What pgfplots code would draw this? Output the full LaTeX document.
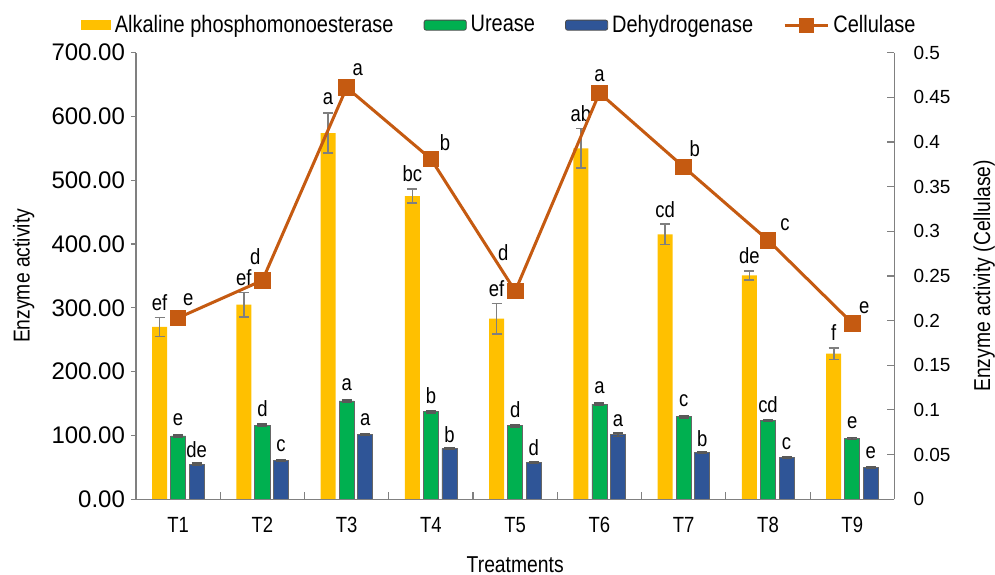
\documentclass[border=0pt]{standalone}
\usepackage{fontspec}
\setmainfont{Liberation Sans}[FakeStretch=0.84]
\newfontfamily\numfont{Liberation Sans}
\usepackage{pgfplots}
\usepackage{pgfplotstable}
\pgfplotsset{compat=1.18}

\definecolor{alpcol}{HTML}{FFC000}
\definecolor{urecol}{HTML}{00B050}
\definecolor{dehcol}{HTML}{2F5597}
\definecolor{celcol}{HTML}{C55A11}
\definecolor{axcol}{HTML}{808080}
\definecolor{errcol}{HTML}{7F7F7F}

% treatment, value, error, letter
\pgfplotstableread{
x alp alperr alpl ure ureerr urel deh deherr dehl
1 270 15 ef  99 1.5 e  55 1.2 de
2 305 19 ef 116 1.5 d  61 1.2 c
3 574 31 a  154 1.5 a 102 1.2 a
4 475 11 bc 137 1.5 b  79 1.2 b
5 283 24 ef 115 1.5 d  58 1.2 d
6 550 31 ab 149 1.5 a 101 3.0 a
7 415 16 cd 129 1.5 c  73 1.2 b
8 351  7 de 123 1.5 cd 65 1.2 c
9 228  9 f   95 1.5 e  50 1.2 e
}\enzymes

% cellulase (right axis), letter and its offset in bp
\pgfplotstableread{
x cel cell dx dy
1 0.203 e 5 9
2 0.245 d -3.5 12
3 0.461 a 5.5 9
4 0.381 b 7 8
5 0.233 d -6 19
6 0.455 a 0 8.5
7 0.372 b 5.5 9
8 0.290 c 8.5 7.5
9 0.197 e 6 7.5
}\cellulase

\tikzset{lettr/.style={text=black, font=\fontsize{11}{12}\selectfont, inner sep=0pt}}

\pgfplotsset{
  base/.style={
    scale only axis, width=378bp, height=222.5bp,
    xmin=0.5, xmax=9.5, clip=false,
    axis line style={axcol, line width=0.6pt},
    every tick/.style={axcol, line width=0.6pt},
    /pgf/number format/assume math mode=true,
  },
  errsty/.style={error bars/error bar style={#1, line width=0.8pt},
    error bars/error mark options={#1, line width=0.8pt, mark size=2.5bp, rotate=90}},
  alpleg/.style={legend image code/.code={\fill[alpcol] (0bp,-2.5bp) rectangle (15bp,2.5bp);}},
  ureleg/.style={legend image code/.code={\draw[fill=urecol, draw=black!70, rounded corners=1bp] (0bp,-2.5bp) rectangle (21bp,2.5bp);}},
  dehleg/.style={legend image code/.code={\draw[fill=dehcol, draw=black!70, rounded corners=1bp] (0bp,-2.5bp) rectangle (21bp,2.5bp);}},
  celleg/.style={legend image code/.code={\draw[celcol, line width=1.5bp] (0bp,0bp) -- (21.5bp,0bp); \fill[celcol] (7.25bp,-3.5bp) rectangle (14.25bp,3.5bp);}},
}

\begin{document}
\begin{tikzpicture}
\begin{axis}[base,
  ybar=1.75bp, bar width=7.5bp,
  ymin=0, ymax=700, ytick={0,100,...,700},
  axis x line*=bottom, axis y line*=left,
  tick align=outside, major tick length=2.5bp,
  xtick={1,...,9}, xticklabels={T1,T2,T3,T4,T5,T6,T7,T8,T9},
  xtick style={draw=none},
  x tick label style={font=\fontsize{11}{12}\selectfont, yshift=-3bp},
  y tick label style={font=\numfont\fontsize{12}{13}\selectfont, xshift=0.5bp,
    /pgf/number format/.cd, fixed, fixed zerofill, precision=2},
  xlabel={Treatments}, ylabel={Enzyme activity},
  label style={font=\fontsize{11.5}{13}\selectfont},
  xlabel style={inner sep=1bp, yshift=-7.3bp},
  ylabel style={inner sep=0pt, inner ysep=6.5bp, yshift=-1.5bp},
  legend columns=4,
  legend style={at={(0.5,1)}, anchor=south, xshift=-7.5bp, yshift=1bp,
    inner ysep=5.5bp,
    draw=none, fill=none, font=\fontsize{11.9}{13}\selectfont,
    /tikz/every even column/.append style={column sep=13bp}},
  legend cell align=left,
]
\addplot[fill=alpcol, draw=none, alpleg,
  nodes near coords, point meta=explicit symbolic,
  visualization depends on={\thisrow{alperr} \as \myerr},
  every node near coord/.append style={lettr, anchor=center, yshift=\myerr*0.31786bp+7.5bp},
  errsty=errcol,
  error bars/.cd, y dir=both, y explicit]
  table[x=x, y=alp, y error=alperr, meta=alpl]{\enzymes};
\addlegendentry{Alkaline phosphomonoesterase}
\addplot[fill=urecol, draw=black!60, line width=0.4bp, ureleg,
  nodes near coords, point meta=explicit symbolic,
  every node near coord/.append style={lettr, anchor=center, yshift=8bp},
  errsty=black!65,
  error bars/.cd, y dir=both, y explicit]
  table[x=x, y=ure, y error=ureerr, meta=urel]{\enzymes};
\addlegendentry{Urease}
\addplot[fill=dehcol, draw=black!60, line width=0.4bp, dehleg,
  nodes near coords, point meta=explicit symbolic,
  every node near coord/.append style={lettr, anchor=center, yshift=7bp},
  errsty=black!65,
  error bars/.cd, y dir=both, y explicit]
  table[x=x, y=deh, y error=deherr, meta=dehl]{\enzymes};
\addlegendentry{Dehydrogenase}
\addlegendimage{celleg}
\addlegendentry{Cellulase}
\end{axis}

\begin{axis}[base,
  ymin=0, ymax=0.5,
  ytick={0,0.05,0.1,0.15,0.2,0.25,0.3,0.35,0.4,0.45,0.5},
  axis x line*=bottom, axis y line*=right,
  tick align=inside, major tick length=3.5bp,
  xtick={1.5,2.5,...,8.5}, xticklabels={},
  y tick label style={font=\numfont\fontsize{9.5}{12}\selectfont, xshift=6bp,
    /pgf/number format/.cd, fixed, precision=2},
  ylabel={Enzyme activity (Cellulase)},
  ylabel style={font=\fontsize{11.5}{13}\selectfont, inner sep=0pt, yshift=-8bp},
]
\addplot[celcol, line width=1.5bp, mark=square*, mark size=3.4bp,
  mark options={solid, fill=celcol, draw=none},
  nodes near coords, point meta=explicit symbolic,
  visualization depends on={\thisrow{dx} \as \mydx},
  visualization depends on={\thisrow{dy} \as \mydy},
  every node near coord/.append style={lettr, anchor=center, xshift=\mydx*1bp, yshift=\mydy*1bp}]
  table[x=x, y=cel, meta=cell]{\cellulase};
\end{axis}
\end{tikzpicture}
\end{document}
